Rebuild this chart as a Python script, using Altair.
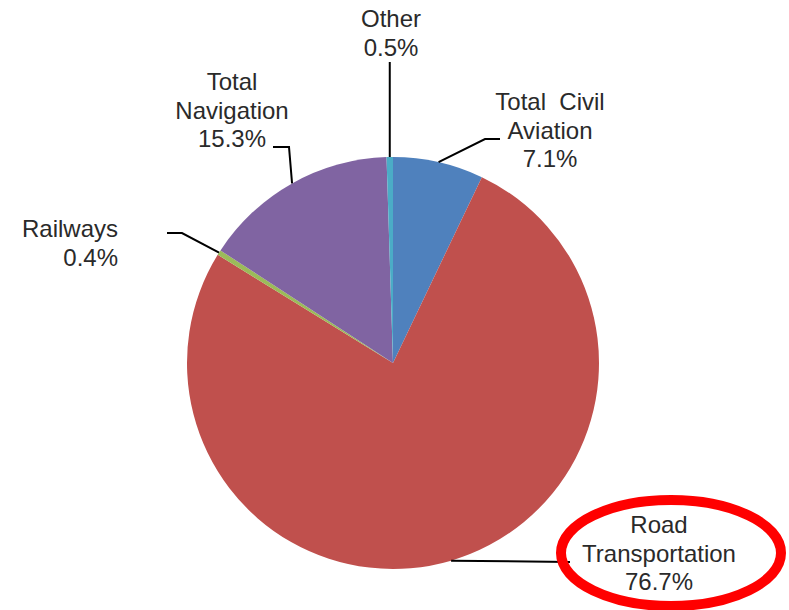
import math
import altair as alt
import pandas as pd

# ---- data ----
categories = ["Total Civil Aviation", "Road Transportation", "Railways", "Total Navigation", "Other"]
shares = [7.1, 76.7, 0.4, 15.3, 0.5]
colors = ["#4F81BD", "#C0504D", "#9BBB59", "#8064A2", "#4BACC6"]
label_names = [["Total\u00a0 Civil", "Aviation"], ["Road", "Transportation"], ["Railways"],
               ["Total", "Navigation"], ["Other"]]
highlight = "Road Transportation"

# ---- layout (pixels) ----
W, H = 789, 610
CX, CY, R = 393, 363, 206
LINE_H = 28.7
FONT = "Liberation Sans, Arial, sans-serif"
label_layout = {
    "Total Civil Aviation": (550, 110, "center"),
    "Road Transportation": (659, 533, "center"),
    "Railways": (118, 237, "right"),
    "Total Navigation": (232, 90, "center"),
    "Other": (391, 27, "center"),
}
elbows = {
    "Total Civil Aviation": [(485, 139), (500, 139)],
    "Road Transportation": [(570, 562)],
    "Railways": [(182, 233), (167, 233)],
    "Total Navigation": [(289, 147), (273, 147)],
    "Other": [(None, 62)],
}
ellipse_layout = dict(x=671, y=553, rx=110, ry=53, width=10)

# ---- tables ----
pie_df = pd.DataFrame({"category": categories, "share": shares, "idx": range(len(categories))})

total = sum(shares)
rows_line, rows_text = [], []
start = 0.0
for cat, v, names in zip(categories, shares, label_names):
    a = 2 * math.pi * (start + v / 2) / total
    start += v
    ax, ay = CX + R * math.sin(a), CY - R * math.cos(a)
    pts = [(ax, ay)] + [(ax if ex is None else ex, ey) for ex, ey in elbows[cat]]
    for i, (px, py) in enumerate(pts):
        rows_line.append({"category": cat, "seq": i, "px": px, "py": py})
    lx, ly, al = label_layout[cat]
    lines = names + [f"{v:.1f}%"]
    for j, t in enumerate(lines):
        rows_text.append({"category": cat, "text": t, "px": lx, "py": ly + j * LINE_H, "align": al})

line_df = pd.DataFrame(rows_line)
text_df = pd.DataFrame(rows_text)
ell_df = pd.DataFrame({"category": [highlight], "px": [ellipse_layout["x"]], "py": [ellipse_layout["y"]]})

xs = alt.Scale(domain=[0, W], range=[0, W], nice=False, zero=False)
ys = alt.Scale(domain=[0, H], range=[0, H], nice=False, zero=False)
X = alt.X("px:Q", scale=xs, axis=None)
Y = alt.Y("py:Q", scale=ys, axis=None)

pie = alt.Chart(pie_df).mark_arc(outerRadius=R).encode(
    theta=alt.Theta("share:Q", stack=True),
    order=alt.Order("idx:Q"),
    color=alt.Color("category:N", scale=alt.Scale(domain=categories, range=colors), legend=None),
    x=alt.value(CX),
    y=alt.value(CY),
)

leaders = alt.Chart(line_df).mark_line(color="black", strokeWidth=2).encode(
    x=X, y=Y, detail="category:N", order="seq:Q"
)

txt_center = alt.Chart(text_df).transform_filter(alt.datum.align == "center").mark_text(
    align="center", baseline="alphabetic", font=FONT, fontSize=24, color="#2a2a2a"
).encode(x=X, y=Y, text="text:N")

txt_right = alt.Chart(text_df).transform_filter(alt.datum.align == "right").mark_text(
    align="right", baseline="alphabetic", font=FONT, fontSize=24, color="#2a2a2a"
).encode(x=X, y=Y, text="text:N")

e = ellipse_layout["ry"] / ellipse_layout["rx"]
k = 0.5523
ke = k * e
shape = (f"M1,0 C1,{ke:.4f} {k},{e:.4f} 0,{e:.4f} C{-k},{e:.4f} -1,{ke:.4f} -1,0 "
         f"C-1,{-ke:.4f} {-k},{-e:.4f} 0,{-e:.4f} C{k},{-e:.4f} 1,{-ke:.4f} 1,0 Z")
ellipse = alt.Chart(ell_df).mark_point(
    shape=shape, filled=False, stroke="#FF0000", strokeWidth=ellipse_layout["width"],
    size=(2 * ellipse_layout["rx"]) ** 2, opacity=1,
).encode(x=X, y=Y)

chart = alt.layer(pie, leaders, txt_center, txt_right, ellipse).properties(
    width=W, height=H, padding=0, autosize=alt.AutoSizeParams(type="none"),
    background="white",
).configure_view(stroke=None)

chart.save("out.html", embed_options={"renderer": "svg", "actions": False})
